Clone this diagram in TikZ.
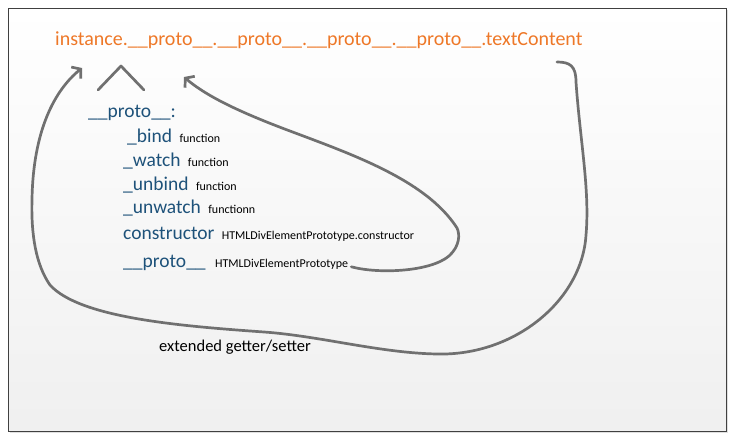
\documentclass[tikz,border=0pt]{standalone}
\usepackage{fontspec}
\setmainfont{Carlito}
\usetikzlibrary{arrows.meta, shadows}
\definecolor{chain}{RGB}{238,120,40}
\definecolor{member}{RGB}{30,82,122}
\definecolor{link}{RGB}{112,112,112}

\begin{document}
\begin{tikzpicture}[
    x=1pt, y=-1pt,
    key/.style={anchor=base west, inner sep=0pt, text=member, font=\fontsize{19.5}{22}\selectfont},
    val/.style={anchor=base west, inner sep=0pt, font=\fontsize{12}{14}\selectfont},
    link/.style={draw=link, line width=2.7pt, line cap=round, line join=round},
    tip/.style={-{Straight Barb[length=6pt,width=15pt]}}
]

\useasboundingbox (0,0) rectangle (735,438);

% Marco
\shade[top color=white, bottom color=black!6, draw=black!75, line width=0.8pt,
    drop shadow={shadow xshift=2pt, shadow yshift=-2pt, opacity=0.25}] (8,8) rectangle (726,431);

% Cadena
\node[anchor=base west, inner sep=0pt, text=chain, font=\fontsize{20}{24}\selectfont] (title) at (55,46)
    {instance.\_\_proto\_\_.\_\_proto\_\_.\_\_proto\_\_.\_\_proto\_\_.textContent};

% Miembros
\node[key] (protohead) at (88,118) {\_\_proto\_\_:};
\node[key] (bindkey) at (127,143) {\_bind};
\node[key] (watchkey) at (123,167) {\_watch};
\node[key] (unbindkey) at (123,191) {\_unbind};
\node[key] (unwatchkey) at (123,214) {\_unwatch};
\node[key] (ctorkey) at (123,239) {constructor};
\node[key] (protokey) at (123,267) {\_\_proto\_\_};

\node[val] (bindval) at ([xshift=7pt]bindkey.base east) {function};
\node[val] (watchval) at ([xshift=7pt]watchkey.base east) {function};
\node[val] (unbindval) at ([xshift=7pt]unbindkey.base east) {function};
\node[val] (unwatchval) at ([xshift=7pt]unwatchkey.base east) {functionn};
\node[val] (ctorval) at ([xshift=7pt]ctorkey.base east) {HTMLDivElementPrototype.constructor};
\node[val] (protoval) at ([xshift=9pt]protokey.base east) {HTMLDivElementPrototype};

\node[anchor=base west, inner sep=0pt, font=\fontsize{16.5}{19}\selectfont] (getset) at (159,351) {extended getter/setter};

% Puntos libres
\coordinate (tcend) at (557,62);
\coordinate (insttip) at (82,68);
\coordinate (p1tip) at (184,77);
\coordinate (caretl) at (98,90);
\coordinate (caretm) at (121,66);
\coordinate (caretr) at (144,90);

% Flechas
\draw[link] (caretl) -- (caretm) -- (caretr);

\draw[link, tip] ([xshift=3pt,yshift=-3pt]protoval.east)
    .. controls (378,274) and (430,272) .. (449,256)
    .. controls (460,246) and (460,234) .. (457,228)
    .. controls (425,178) and (345,152) .. (282,128)
    .. controls (235,110) and (205,95) .. (p1tip);

\draw[link, tip] (tcend)
    .. controls (570,62) and (576,66) .. (576,82)
    .. controls (580,140) and (590,190) .. (586,235)
    .. controls (582,300) and (515,356) .. (437,354)
    .. controls (380,353) and (320,336) .. (264,332)
    .. controls (180,326) and (80,318) .. (50,285)
    .. controls (36,265) and (31,235) .. (32,200)
    .. controls (33,130) and (55,90) .. (insttip);

\end{tikzpicture}
\end{document}
